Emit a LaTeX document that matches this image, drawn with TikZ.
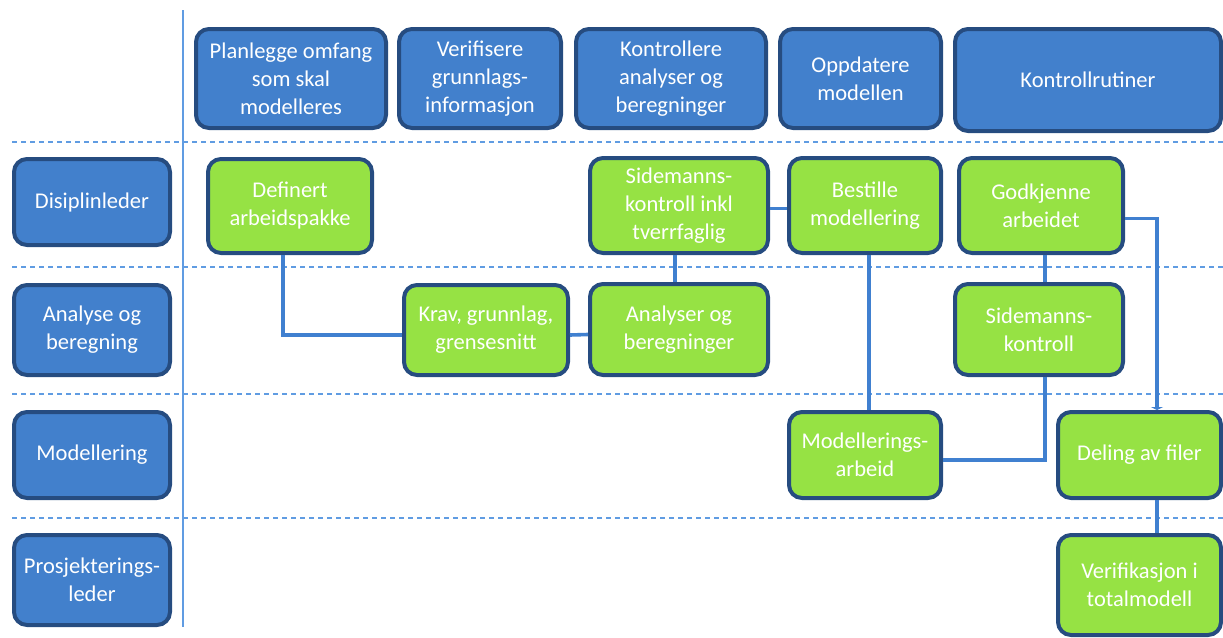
\documentclass[tikz,border=0pt]{standalone}
\usepackage{fontspec}
\setmainfont{Carlito}
\usetikzlibrary{arrows.meta}
\definecolor{blue1}	{RGB}{66,128,204}
\definecolor{navy1}	{RGB}{38,76,128}
\definecolor{green1}	{RGB}{150,226,68}
\definecolor{line1}	{RGB}{64,128,208}
\definecolor{lane1}	{RGB}{96,156,226}
\tikzstyle{box}=	[rounded corners=13pt, line width=4pt, draw=navy1, text=white, align=center, inner sep=0pt, font=\fontsize{22.5}{28}\selectfont]
\tikzstyle{phase}=	[box, fill=blue1, minimum height=99pt]
\tikzstyle{role}=	[box, fill=blue1, minimum width=156pt]
\tikzstyle{task}=	[box, fill=green1]
\tikzstyle{link}=	[line width=3.6pt, draw=line1]
\tikzstyle{lane}=	[line width=1.2pt, draw=lane1, dash pattern=on 5pt off 4pt]
\tikzstyle{divider}=	[line width=1.2pt, draw=lane1]

\begin{document}
\begin{tikzpicture}[x=1pt, y=-1pt]
	\useasboundingbox (0,0) rectangle (1223,637);

	%%% swimlanes
	\draw[divider] (183,10) coordinate (d0) -- (183,627) coordinate (d1);
	\foreach \y in {142,267,394,518}
		\draw[lane] (12,\y) -- (1223,\y);

	%%% phases
	\node[phase, minimum width=190pt] (p1) at (291,78.5)	{Planlegge omfang\\som skal\\modelleres};
	\node[phase, minimum width=162pt] (p2) at (480,78.5)	{Verifisere\\grunnlags-\\informasjon};
	\node[phase, minimum width=190pt] (p3) at (671,78.5)	{Kontrollere\\analyser og\\beregninger};
	\node[phase, minimum width=161pt] (p4) at (860.5,78.5)	{Oppdatere\\modellen};
	\node[phase, minimum width=266pt, minimum height=102pt] (p5) at (1088,80) {Kontrollrutiner};

	%%% roles
	\node[role, minimum height=86pt] (r1) at (92,202)	{Disiplinleder};
	\node[role, minimum height=90pt] (r2) at (92,330)	{Analyse og\\beregning};
	\node[role, minimum height=86pt] (r3) at (92,455)	{Modellering};
	\node[role, minimum height=90pt] (r4) at (92,580)	{Prosjekterings-\\leder};

	%%% tasks
	% disiplinleder
	\node[task, minimum width=164pt, minimum height=94pt] (t1) at (290,206)		{Definert\\arbeidspakke};
	\node[task, minimum width=178pt, minimum height=95pt] (t2) at (679,205.5)	{Sidemanns-\\kontroll inkl\\tverrfaglig};
	\node[task, minimum width=152pt, minimum height=95pt] (t3) at (865,205.5)	{Bestille\\modellering};
	\node[task, minimum width=164pt, minimum height=95pt] (t4) at (1041,205.5)	{Godkjenne\\arbeidet};

	% analyse og beregning
	\node[task, minimum width=164pt, minimum height=90pt] (t5) at (486,330)		{Krav, grunnlag,\\grensesnitt};
	\node[task, minimum width=178pt, minimum height=91pt] (t6) at (679,329.5)	{Analyser og\\beregninger};
	\node[task, minimum width=168pt, minimum height=91pt] (t7) at (1039,329.5)	{Sidemanns-\\kontroll};

	% modellering
	\node[task, minimum width=152pt, minimum height=86pt] (t8) at (865,455)		{Modellerings-\\arbeid};
	\node[task, minimum width=163pt, minimum height=86pt] (t9) at (1139.5,455)	{Deling av filer};

	% prosjekteringsleder
	\node[task, minimum width=163pt, minimum height=100pt] (t10) at (1139.5,585) {Verifikasjon i\\totalmodell};

	%%% connectors
	\draw[link] ([xshift=-7pt]t1.south) |- ([yshift=-5pt]t5.west);
	\draw[link] ([yshift=-5pt]t5.east) -- ([yshift=-5pt]t6.west);
	\draw[link] ([xshift=-4pt]t2.south) -- ([xshift=-4pt]t6.north);
	\draw[link] ([yshift=-3pt]t2.east) -- ([yshift=-3pt]t3.west);
	\draw[link] ([xshift=4pt]t3.south) -- ([xshift=4pt]t8.north);
	\draw[link] ([xshift=4pt]t4.south) -- ([xshift=6pt]t7.north);
	\draw[link] ([xshift=6pt]t7.south) |- ([yshift=-5pt]t8.east);
	\draw[link, -{Triangle[width=12pt, length=3pt]}] ([yshift=-13pt]t4.east) -| ([xshift=17.5pt]t9.north);
	\draw[link] ([xshift=17.5pt]t9.south) -- ([xshift=17.5pt]t10.north);

\end{tikzpicture}
\end{document}
